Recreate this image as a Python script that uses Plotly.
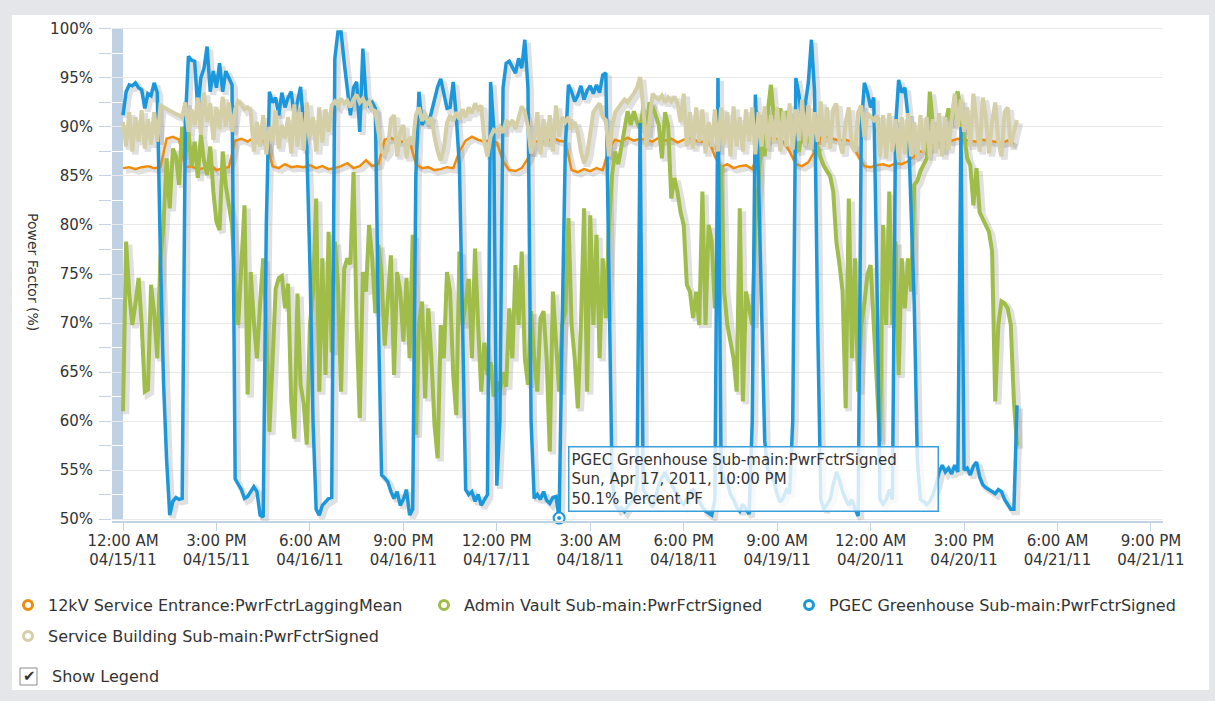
import pandas as pd
import plotly.graph_objects as go

# ---------------- data ----------------
START = "2011-04-15 00:00"

series_names = [
    "12kV Service Entrance:PwrFctrLaggingMean",
    "Admin Vault Sub-main:PwrFctrSigned",
    "PGEC Greenhouse Sub-main:PwrFctrSigned",
    "Service Building Sub-main:PwrFctrSigned",
]

# hourly readings (%)
pf_12kv_entrance = [
    85.8, 85.9, 85.7, 85.9, 86.0, 85.8, 85.9,
    88.8, 89.0, 88.7,
    85.9, 86.0, 85.7, 85.8, 86.1, 85.6, 85.8, 85.9,
    88.6, 88.8, 88.5, 88.9, 88.7, 88.4,
    86.0, 85.8, 86.2, 85.9, 86.0, 85.9, 86.1, 85.8, 86.0, 85.7, 85.8, 86.0, 86.3, 85.8, 86.0, 86.6, 86.0, 86.2,
    88.7, 88.9, 88.6, 88.5, 88.6,
    86.2, 85.8, 85.9, 85.6, 85.7, 85.9, 85.8,
    87.5, 88.6, 89.0, 88.7, 88.5, 88.7, 88.4,
    86.5, 85.6, 85.5, 85.8, 86.8,
    88.4, 88.7, 88.5, 88.9, 88.6, 88.5,
    85.6, 85.4, 85.7, 85.5, 85.8, 85.6,
    87.8,
    88.7, 88.5, 88.9, 88.6, 88.8, 88.7, 88.5, 88.9, 88.6, 88.8, 88.4, 88.7, 88.9, 88.6, 88.5, 88.7,
    87.0,
    85.9, 86.2, 85.8, 86.0, 86.1, 85.7,
    87.5,
    88.6, 88.9, 88.8, 88.5,
    87.5,
    86.2, 86.0, 86.4,
    87.5,
    88.9, 89.0, 88.8, 88.6, 88.7, 88.5,
    87.0,
    86.0, 85.9, 86.1, 86.2, 86.0, 86.3, 86.2, 86.5,
    87.0, 87.5, 87.6, 88.2, 88.6, 88.8,
    88.6, 88.8, 88.7, 88.6, 88.5, 88.7, 88.6, 88.5, 88.4, 88.6, 88.3,
]

# half-hourly readings (%)
pf_admin_vault = [
    61, 78.3, 73, 69.8, 72, 74.6, 69.8, 63, 63.2, 73.9, 71, 66.4, 76.6, 80, 86.8, 81.7,
    87.8, 87, 84.1, 90, 87, 89.5, 86, 88.5, 84.8, 89.2, 86.5, 85.1, 88, 83.4, 80.3, 79.5,
    87.5, 84, 82, 80, 74, 69.8, 76, 82, 62.7, 75.2, 70.2, 66.4, 72, 76.6, 70, 58.9,
    66, 73.5, 74.6, 74.8, 71.5, 74, 62, 58.2, 73, 63.7, 61.8, 57.6, 69.8, 73.2, 82.7, 63,
    76.6, 64.7, 79.3, 67, 78.3, 74, 63, 75.5, 76.6, 76, 85.4, 69.8, 60.3, 75.2, 73.2, 80,
    76.6, 71, 78, 74.9, 67.7, 72, 76.9, 64.7, 75.2, 73.2, 68.1, 74.6, 66.4, 79, 58.6, 69.8,
    72.2, 62.3, 71.5, 66.4, 59.6, 56.2, 69.8, 66.4, 75.2, 73.2, 64.7, 60.6, 77.3, 69.8, 72.2, 74.5,
    66.4, 77.6, 69.8, 63, 68, 64.7, 66, 62.5, 64, 63, 65, 63.5, 71.5, 66.4, 75.9, 69.8,
    77.3, 66.4, 63.7, 71.2, 66.4, 63, 70.5, 71.2, 66.4, 56.9, 73.2, 68.1, 63, 69.8, 71.2, 80.7,
    69.8, 66.4, 61.3, 69.8, 81.7, 63, 81, 69.8, 79, 66.4, 76.6, 70.5, 80, 85.1, 87.5, 86.2,
    88.2, 90.2, 91.6, 90.2, 91.6, 90.5, 89.8, 92, 89.2, 92.5, 92, 91.2, 90.2, 86.8, 91.5, 90.2,
    82.7, 84.8, 83.4, 81.3, 80, 73.9, 73.2, 70.5, 73.2, 69.8, 83.4, 69.8, 80, 78.3, 71.5, 75,
    86.1, 73.2, 69.8, 68.1, 66.4, 63, 81.7, 62, 73.2, 71.5, 69.8, 80, 84.1, 90.2, 87, 91.6,
    94.3, 90.8, 90.2, 91.9, 90.2, 91.6, 90.9, 90.2, 88, 87.5, 90, 88, 89, 88.5, 87.5, 88,
    86.8, 86, 85.5, 85, 83.4, 78.3, 76, 73.2, 61.3, 82.7, 66.4, 76.6, 63, 69.8, 72, 75,
    75.9, 69.8, 63, 57.9, 80, 69.8, 83.4, 69.8, 78.3, 64.7, 76.6, 71.5, 76.6, 73.2, 84.1, 84.5,
    85.5, 86.1, 86.8, 93.6, 90.2, 88.5, 89.5, 87.5, 90.2, 91.9, 90.2, 92.9, 93.6, 90.2, 89.2, 86.8,
    86.1, 82, 85.8, 81.3, 80.7, 80, 79.3, 77.3, 62, 69.8, 72.2, 72, 71.5, 69.8, 62, 57.5,
]

pf_pgec_greenhouse = [
    91.2, 93.6, 94.3, 94.2, 94.5, 94.0, 93.8, 91.9, 93.4, 93.2, 94.5, 93.5, 77, 64, 56, 50.4,
    51.8, 52.2, 52.0, 52.1, 90.5, 97.2, 96.8, 96.7, 91.9, 95.0, 96.0, 98.2, 93.6, 95.7, 94.0, 96.5,
    93.6, 95.7, 95.0, 94.3, 54.1, 53.5, 53.0, 52.1, 52.3, 52.8, 53.3, 52.8, 50.4, 50.2, 80, 93.6,
    92.5, 93.0, 91.2, 93.5, 92.0, 93.0, 93.6, 91.0, 92.5, 94.1, 90.2, 88, 76, 60, 51, 50.4,
    51.4, 51.8, 52.1, 52.2, 97, 99.7, 99.7, 96.6, 94.2, 91.2, 94.0, 94.6, 89.5, 98.0, 93.0, 92.2,
    92.5, 91.9, 70, 54.5, 54.2, 53.8, 52.8, 52.1, 52.8, 51.4, 52.0, 53.0, 50.4, 51.0, 85, 93.6,
    90.2, 91.0, 90.2, 91.5, 93.0, 94.1, 94.9, 93.5, 91.9, 92.0, 94.6, 91.0, 86, 70, 53, 52.5,
    52.8, 51.8, 52.5, 51.4, 52.0, 52.5, 94.6, 90, 53.4, 60, 94, 96.5, 96.7, 96.0, 95.5, 97.0,
    96.0, 98.9, 94.0, 60, 52.1, 52.5, 52.0, 52.8, 51.9, 51.6, 52.2, 52.3, 50.1, 70, 88, 94.3,
    93.6, 92.6, 93.2, 94.2, 92.8, 93.7, 94.2, 93.4, 94.3, 93.5, 95.3, 95.5, 72.5, 54, 51.5, 51.0,
    51.2, 50.8, 51.3, 51.6, 52.0, 53.5, 90.4, 53, 52.5, 51.8, 51.2, 52.3, 53.5, 54.2, 54.8, 54.0,
    53.6, 53.0, 52.5, 51.8, 51.5, 52.0, 52.8, 53.0, 52.4, 51.8, 51.2, 50.8, 50.6, 50.4, 52, 95,
    55, 54, 53.8, 52.5, 52.0, 51.2, 50.8, 51.5, 51.0, 50.5, 60, 93.3, 85, 73, 58, 55,
    54.5, 53.8, 52.5, 51.7, 52.2, 53.0, 52.6, 60, 95, 93.3, 90.2, 92.3, 94.5, 98.9, 93.6, 70,
    52, 51, 51.5, 52, 53.5, 54.8, 54, 52.8, 52, 51.4, 52, 51, 50.3, 90, 94.5, 93.5,
    92, 93, 75, 52, 51.5, 52, 53, 52, 90, 94.8, 93.5, 94, 91, 82, 72, 56,
    52, 51.8, 51.5, 51.8, 52.5, 53.5, 54.8, 55.5, 54.8, 55.2, 54.6, 55.5, 54.8, 90, 55, 55.2,
    54.5, 55.4, 55.8, 54.3, 53.5, 53.2, 53.0, 52.8, 52.6, 53.0, 52.8, 52.0, 51.5, 51.0, 51.0, 61.6,
]

pf_service_building = [
    90.5, 88, 91.5, 87.5, 91, 88.5, 91.7, 87.8, 90.8, 88.2, 91.5, 88.5,
    92.2, 92, 91.8, 91.6, 91.5, 91.3, 91.2, 91.0,
    92.5, 89.5, 91.8, 90.2, 93.0, 89.2, 93.5, 90.5, 92.4, 88.7, 92.0, 89.8, 93.1, 90.0, 92.5, 89.5, 91.8, 92.6,
    92.3, 91.8, 92.0, 91.6,
    87.5, 90.5, 88.0, 91.2, 87.2, 90.0, 88.5, 91.7, 87.8, 90.2, 88.8, 91.0, 87.3,
    92.3, 88.0, 91.5, 87.6, 92.5, 89.0, 91.0, 87.5, 92.0, 88.4, 91.8, 89.5, 92.2,
    92.6, 92.2, 92.9, 92.4, 92.7, 92.0, 92.8, 93.3, 92.5, 92.9, 92.2, 92.6, 91.8, 91.6,
    89.5, 87.5, 87.2,
    87.6, 90.8, 91.2, 87.0, 89.5, 90.2, 86.8, 89.0, 88.2,
    91.2, 92.0, 90.6, 91.4, 90.2, 91.0, 89.0, 87.5,
    86.6, 87.8,
    90.4, 91.2, 90.6, 91.5, 90.8, 91.8, 91.0, 92.0, 91.4, 92.4, 91.8, 92.2,
    88.5, 87.0, 89.0,
    89.7, 89.5, 90.0, 89.4, 90.7, 90.2, 90.7, 89.8, 91.0,
    92.1, 91.5, 90.0, 87.3, 88.5,
    91.5, 87.2, 90.8, 88.0, 91.2, 87.5, 92.2, 89.0, 91.0, 90.5,
    91.0, 89.8, 90.5, 89.5,
    87.5, 86.3, 87.2, 89.5,
    91.5, 92.0, 92.4, 91.0, 90.7, 87.0,
    90.0, 91.5, 92.0, 92.4, 92.8, 92.5, 93.0, 93.4, 94.0, 95.1,
    92.0, 88.0, 90.5, 93.4, 93.0,
    92.8, 93.2, 92.5, 93.0, 92.6, 93.1, 92.4,
    90.5, 93.4, 88.0, 91.5, 87.8, 92.0, 88.5, 91.8, 87.3, 90.5, 88.0,
    91.8, 87.5, 92.0, 88.2, 91.5, 87.0, 92.1, 88.0, 91.0, 87.5, 91.8, 88.5, 92.0, 87.2,
    91.5, 88.0, 92.1, 87.8, 91.2, 88.3, 92.0, 87.5, 91.6, 88.0, 92.4, 87.7, 91.8, 88.6,
    92.8, 88.0, 92.2, 87.7, 91.5, 88.5, 92.6, 88.0, 92.0, 87.8,
    91.8, 92.4, 88.5, 87.3, 90.5, 92.0, 88.0, 87.5, 91.5, 92.2, 89.0,
    91.4, 91.0, 90.7, 91.2,
    87.0, 91.2, 86.8, 91.4, 87.5, 90.8, 86.6, 91.0, 87.2, 91.4, 87.0, 90.5,
    86.8, 91.2, 87.5, 91.0, 86.9, 90.8, 87.3, 91.4, 87.0, 91.0, 87.6, 90.8,
    93.4, 90.0, 92.8, 89.5,
    92.0, 88.0, 93.4, 90.5, 87.5, 93.0, 91.0, 87.3, 90.5, 92.5, 88.5, 87.0, 91.5, 92.0, 88.0, 89.5, 90.7,
]

y_tick_values = [50, 55, 60, 65, 70, 75, 80, 85, 90, 95, 100]
y_tick_labels = [f"{v}%" for v in y_tick_values]
tooltip_index = 140  # PGEC Greenhouse reading highlighted by the tooltip

# ---------------- styling ----------------
colors = ["#f08c0c", "#9fbd48", "#1b98dc", "#d4cfa6"]
widths = [2.5, 4, 3.5, 4]
FONT = "DejaVu Sans"
TXT = "#333333"
AXIS_BLUE = "#c3d3e3"

W, H = 1215, 701
ML, MR, MT, MB = 112, 52, 27, 180
PW, PH = W - ML - MR, H - MT - MB


def px_x(X):
    return (X - ML) / PW


def px_y(Y):
    return (H - MB - Y) / PH


t0 = pd.Timestamp(START)
x_lo = pd.Timestamp("2011-04-14 22:14")
x_hi = pd.Timestamp("2011-04-21 22:56")
y_lo, y_hi = 49.8, 100.2
shadow_dx = pd.Timedelta(minutes=29)
shadow_dy = 0.31

series = [
    (pd.date_range(START, periods=len(pf_12kv_entrance), freq="h"), pf_12kv_entrance),
    (pd.date_range(START, periods=len(pf_admin_vault), freq="30min"), pf_admin_vault),
    (pd.date_range(START, periods=len(pf_pgec_greenhouse), freq="30min"), pf_pgec_greenhouse),
    (pd.date_range(START, periods=len(pf_service_building), freq="30min"), pf_service_building),
]

fig = go.Figure()

# drop shadows (drawn on an offset copy of the axes, underneath)
for (t, v), w in zip(series, widths):
    fig.add_trace(go.Scatter(
        x=t, y=v, mode="lines", xaxis="x", yaxis="y",
        line=dict(color="rgba(60,60,60,0.16)", width=w + 2.5),
        hoverinfo="skip", showlegend=False,
    ))

# main series
for (t, v), name, c, w in zip(series, series_names, colors, widths):
    fig.add_trace(go.Scatter(
        x=t, y=v, mode="lines", name=name, xaxis="x2", yaxis="y2",
        line=dict(color=c, width=w), showlegend=False,
    ))

# legend entries (open circle symbols), one legend box per entry
legend_ids = ["legend", "legend2", "legend3", "legend4"]
for name, c, lid in zip(series_names, colors, legend_ids):
    fig.add_trace(go.Scatter(
        x=[None], y=[None], mode="markers", name=name, xaxis="x2", yaxis="y2",
        marker=dict(symbol="circle-open", size=9, color=c, line=dict(width=3, color=c)),
        legend=lid,
    ))

# highlighted point
tt_x = series[2][0][tooltip_index]
tt_y = pf_pgec_greenhouse[tooltip_index]
fig.add_trace(go.Scatter(
    x=[tt_x], y=[tt_y], mode="markers", xaxis="x2", yaxis="y2", cliponaxis=False,
    marker=dict(symbol="circle", size=11, color="white", line=dict(color=colors[2], width=2)),
    showlegend=False, hoverinfo="skip",
))
fig.add_trace(go.Scatter(
    x=[tt_x], y=[tt_y], mode="markers", xaxis="x2", yaxis="y2", cliponaxis=False,
    marker=dict(symbol="circle", size=4, color=colors[2]),
    showlegend=False, hoverinfo="skip",
))

tooltip_text = (
    f"{series_names[2]}<br>"
    f"{tt_x.strftime('%a, %b %d, %Y, %I:%M %p')}<br>"
    f"{tt_y:.1f}% Percent PF"
)

legend_common = dict(
    orientation="h", xanchor="left", yanchor="top",
    font=dict(family=FONT, size=16, color=TXT),
    bgcolor="rgba(0,0,0,0)", itemclick=False, itemdoubleclick=False,
)
# (left pixel, top pixel) of each legend box
legend_pos = [(8, 588), (424, 588), (789, 588), (8, 619)]

layout_legends = {
    lid: dict(x=px_x(lx), y=px_y(ly), **legend_common)
    for lid, (lx, ly) in zip(legend_ids, legend_pos)
}

fig.update_layout(
    width=W, height=H,
    margin=dict(l=ML, r=MR, t=MT, b=MB, pad=0, autoexpand=False),
    paper_bgcolor="#e4e6e9",
    plot_bgcolor="white",
    font=dict(family=FONT, color=TXT),
    hovermode=False,
    xaxis=dict(range=[x_lo - shadow_dx, x_hi - shadow_dx], type="date", visible=False, anchor="y"),
    yaxis=dict(range=[y_lo + shadow_dy, y_hi + shadow_dy], visible=False, anchor="x"),
    xaxis2=dict(
        overlaying="x", anchor="y2", type="date", range=[x_lo, x_hi],
        tick0=START, dtick=15 * 3600 * 1000,
        tickformat="%-I:%M %p<br>%m/%d/%y",
        ticks="outside", ticklen=8, tickcolor=AXIS_BLUE, ticklabelstandoff=-3,
        showline=True, linecolor=AXIS_BLUE, linewidth=1.5,
        showgrid=False, zeroline=False,
        tickfont=dict(family=FONT, size=15, color=TXT),
    ),
    yaxis2=dict(
        overlaying="y", anchor="x2", side="left", range=[y_lo, y_hi],
        tickmode="array", tickvals=y_tick_values, ticktext=y_tick_labels,
        ticks="outside", ticklen=12, tickcolor=AXIS_BLUE, ticklabelstandoff=3,
        showgrid=True, gridcolor="#e9e9e9", gridwidth=1,
        minor=dict(dtick=2.5, tick0=50, ticks="outside", ticklen=12, tickcolor=AXIS_BLUE,
                   showgrid=True, gridcolor="white", gridwidth=1),
        showline=False, zeroline=False,
        tickfont=dict(family=FONT, size=15, color=TXT),
    ),
    shapes=[
        dict(type="rect", xref="paper", yref="paper", layer="below",
             x0=px_x(12), x1=px_x(1209), y0=px_y(690), y1=px_y(15),
             fillcolor="white", line=dict(width=0)),
        dict(type="rect", xref="x2", yref="y2", layer="below",
             x0=x_lo, x1=t0, y0=50, y1=100,
             fillcolor="#bfd1e2", line=dict(width=0)),
        dict(type="rect", xref="paper", yref="paper", layer="above",
             x0=px_x(20), x1=px_x(37), y0=px_y(685), y1=px_y(668),
             fillcolor="white", line=dict(color="#8c8c8c", width=1)),
    ],
    annotations=[
        dict(text="Power Factor (%)", textangle=90, xref="paper", yref="paper",
             x=px_x(33), y=px_y(272), xanchor="center", yanchor="middle",
             showarrow=False, font=dict(family=FONT, size=14, color=TXT)),
        dict(text=tooltip_text, xref="paper", yref="paper",
             x=px_x(568), y=px_y(446), xanchor="left", yanchor="top",
             width=364, height=59, align="left", valign="middle",
             bgcolor="rgba(255,255,255,0.8)", bordercolor="#3aa0dc",
             borderwidth=1.5, borderpad=2, showarrow=False,
             font=dict(family=FONT, size=15, color=TXT)),
        dict(text="✔", xref="paper", yref="paper", x=px_x(29), y=px_y(676),
             xanchor="center", yanchor="middle", showarrow=False,
             font=dict(family=FONT, size=15, color="#333")),
        dict(text="Show Legend", xref="paper", yref="paper", x=px_x(50), y=px_y(676),
             xanchor="left", yanchor="middle", showarrow=False,
             font=dict(family=FONT, size=16, color=TXT)),
    ],
    **layout_legends,
)

fig.write_html(
    "out.html",
    config={"displayModeBar": False},
    post_script="document.body.style.margin='0';document.body.style.overflow='hidden';",
)
